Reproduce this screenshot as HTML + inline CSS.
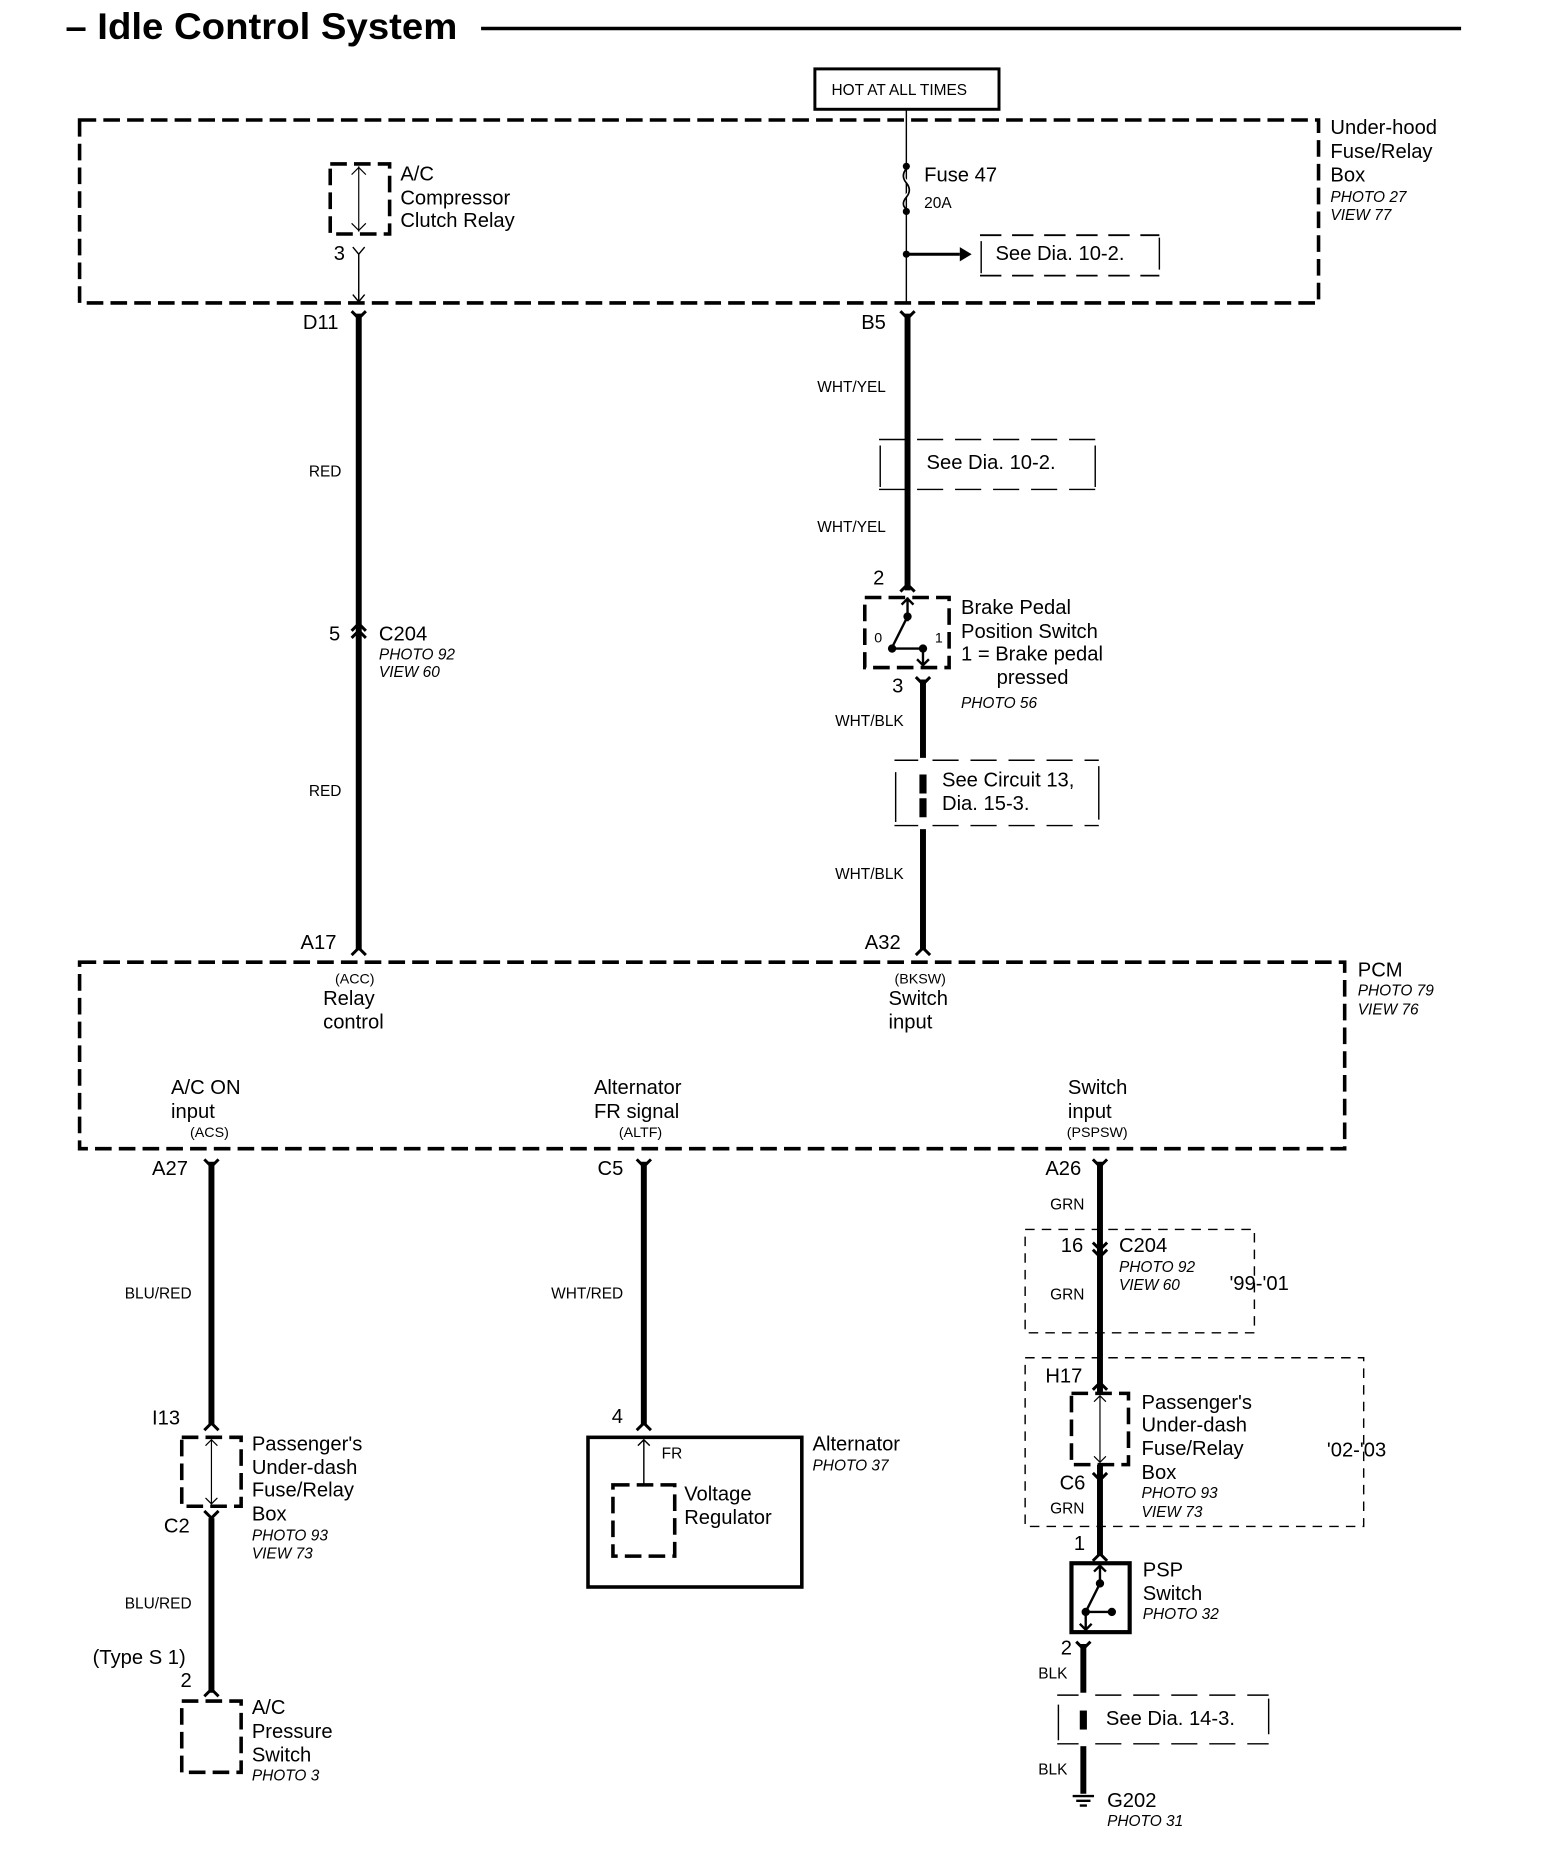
<!DOCTYPE html>
<html><head><meta charset="utf-8"><style>
html,body{margin:0;padding:0;background:#fff}
svg{display:block}
text{font-family:"Liberation Sans",Arial,sans-serif;fill:#000}
.l{font-size:17px}.s{font-size:13px}.i{font-size:13px;font-style:italic}.xs{font-size:12px}
</style></head><body>
<svg width="1568" height="1862" viewBox="0 0 1320 1567.5" preserveAspectRatio="none" xmlns="http://www.w3.org/2000/svg">
<g fill="none" stroke="#000">
<line x1="405" y1="24" x2="1230" y2="24" stroke-width="3"/>
<rect x="686" y="58" width="155" height="34" stroke-width="2.5"/>
<line x1="763" y1="92" x2="763" y2="255" stroke-width="1.2"/>
<rect x="67" y="101" width="1043" height="154" stroke-width="3" stroke-dasharray="14 6"/>
<path d="M763 140 q-6 6 0 12 q6 6 0 12 q-6 6 0 14" stroke-width="1.5" stroke="#fff"/>
<path d="M763 142 q-5 6 0 12 q5 6 0 12 q-5 6 0 10" stroke-width="1.4"/>
<line x1="763" y1="214" x2="808" y2="214" stroke-width="2.5"/>
<path d="M825 198 h151 M825 232 h151" stroke-width="1.5" stroke-dasharray="18 9"/>
<path d="M826 203 v27 M976 200 v27" stroke-width="1.2"/>
<rect x="278" y="138" width="50" height="59" stroke-width="3" stroke-dasharray="14 6"/>
<line x1="302" y1="140" x2="302" y2="195" stroke-width="1"/>
<path d="M296 147 l6 -6 l6 6 M296 188 l6 6 l6 -6" stroke-width="1"/>
<path d="M297 208 l5 6 l5 -6 M302 214 v40 M297 248 l5 6 l5 -6" stroke-width="1.2"/>
<line x1="302" y1="264" x2="302" y2="800" stroke-width="5"/>
<path d="M296 262 l6 6 l6 -6" stroke-width="2.5"/>
<path d="M296 537 l6 -6 l6 6 M296 531 l6 -6 l6 6" stroke-width="2.5"/>
<path d="M296 804 l6 -6 l6 6" stroke-width="2.5"/>
<line x1="764" y1="264" x2="764" y2="497" stroke-width="5"/>
<path d="M758 262 l6 6 l6 -6 M758 498 l6 -6 l6 6" stroke-width="2.5"/>
<path d="M740 370 h182 M740 412 h182" stroke-width="1.2" stroke-dasharray="22 10"/>
<path d="M741 375 v35 M922 375 v35" stroke-width="1.2"/>
<rect x="728" y="503" width="71" height="59" stroke-width="3" stroke-dasharray="14 6"/>
<path d="M764 503 v20 M759 509 l5 -5 l5 5 M764 519 l-13 26 M751 546 h24 M777 546 v14 M772 555 l5 5 l5 -5" stroke-width="2"/>
<line x1="777" y1="572" x2="777" y2="800" stroke-width="5"/>
<path d="M771 570 l6 6 l6 -6 M771 804 l6 -6 l6 6" stroke-width="2.5"/>
<path d="M753 640 h172 M753 695 h172" stroke-width="1.2" stroke-dasharray="22 10"/>
<path d="M754 650 v42 M925 645 v45" stroke-width="1.2"/>
<rect x="67" y="810" width="1065" height="157" stroke-width="3" stroke-dasharray="14 6"/>
<line x1="178" y1="978" x2="178" y2="1200" stroke-width="5"/>
<path d="M172 976 l6 6 l6 -6 M172 1204 l6 -6 l6 6 M172 1272 l6 6 l6 -6 M172 1428 l6 -6 l6 6" stroke-width="2.5"/>
<rect x="153" y="1210" width="50" height="58" stroke-width="3" stroke-dasharray="14 6"/>
<path d="M178 1212 v54 M173 1217 l5 -5 l5 5 M173 1261 l5 5 l5 -5" stroke-width="1"/>
<line x1="178" y1="1278" x2="178" y2="1425" stroke-width="5"/>
<rect x="153" y="1432" width="50" height="60" stroke-width="3" stroke-dasharray="14 6"/>
<line x1="542" y1="978" x2="542" y2="1200" stroke-width="5"/>
<path d="M536 976 l6 6 l6 -6 M536 1204 l6 -6 l6 6" stroke-width="2.5"/>
<rect x="495" y="1210" width="180" height="126" stroke-width="3"/>
<path d="M542 1212 v38 M537 1217 l5 -5 l5 5" stroke-width="1.2"/>
<rect x="516" y="1250" width="52" height="60" stroke-width="3" stroke-dasharray="14 6"/>
<line x1="926" y1="978" x2="926" y2="1310" stroke-width="5"/>
<path d="M920 976 l6 6 l6 -6 M920 1046 l6 6 l6 -6 M920 1052 l6 6 l6 -6 M920 1170 l6 -6 l6 6 M920 1240 l6 6 l6 -6 M920 1314 l6 -6 l6 6" stroke-width="2.5"/>
<rect x="863" y="1035" width="193" height="87" stroke-width="1.2" stroke-dasharray="8 6"/>
<rect x="863" y="1143" width="285" height="142" stroke-width="1.2" stroke-dasharray="8 6"/>
<rect x="902" y="1173" width="48" height="60" stroke-width="3" stroke-dasharray="14 6" fill="#fff"/>
<path d="M926 1175 v56 M921 1180 l5 -5 l5 5 M921 1226 l5 5 l5 -5" stroke-width="1"/>
<rect x="902" y="1316" width="49" height="58" stroke-width="3.5" fill="#fff"/>
<path d="M926 1318 v14 M921 1323 l5 -5 l5 5 M926 1333 l-12 24 M914 1357 h22 M914 1357 v15 M909 1367 l5 5 l5 -5" stroke-width="2"/>
<line x1="912" y1="1384" x2="912" y2="1510" stroke-width="5"/>
<path d="M906 1382 l6 6 l6 -6" stroke-width="2.5"/>
<path d="M890 1427 h178 M890 1468 h178" stroke-width="1.2" stroke-dasharray="22 10"/>
<path d="M891 1435 v30 M1068 1430 v30" stroke-width="1.2"/>
<path d="M903 1512 h18 M906 1516 h12 M909 1520 h6" stroke-width="2"/>
</g>
<g fill="#000">
<circle cx="763" cy="140" r="3"/><circle cx="763" cy="178" r="3"/><circle cx="763" cy="214" r="3"/>
<polygon points="808,208 818,214 808,220"/>
<circle cx="764" cy="519" r="3.5"/><circle cx="751" cy="546" r="3.5"/><circle cx="777" cy="546" r="3.5"/>
<circle cx="926" cy="1333" r="3.5"/><circle cx="914" cy="1357" r="3.5"/><circle cx="936" cy="1357" r="3.5"/>
<rect x="908" y="1425" width="8" height="45" fill="#fff"/>
<rect x="773" y="638" width="8" height="60" fill="#fff"/>
<rect x="909" y="1440" width="6" height="16"/>
<rect x="774" y="652" width="6" height="16"/><rect x="774" y="672" width="6" height="16"/>
</g>
<text x="55" y="33" style="font-size:31px;font-weight:bold" textLength="330" lengthAdjust="spacingAndGlyphs">– Idle Control System</text>
<text x="700" y="80" class="s">HOT AT ALL TIMES</text>
<text x="1120" y="113" class="l">Under-hood</text><text x="1120" y="133" class="l">Fuse/Relay</text><text x="1120" y="153" class="l">Box</text>
<text x="1120" y="170" class="i">PHOTO 27</text><text x="1120" y="185" class="i">VIEW 77</text>
<text x="778" y="153" class="l">Fuse 47</text><text x="778" y="175" class="s">20A</text>
<text x="838" y="219" class="l">See Dia.  10-2.</text>
<text x="337" y="152" class="l">A/C</text><text x="337" y="172" class="l">Compressor</text><text x="337" y="191" class="l">Clutch Relay</text>
<text x="281" y="219" class="l">3</text>
<text x="255" y="277" class="l">D11</text><text x="725" y="277" class="l">B5</text>
<text x="260" y="401" class="s">RED</text><text x="260" y="670" class="s">RED</text>
<text x="277" y="539" class="l">5</text><text x="319" y="539" class="l">C204</text>
<text x="319" y="555" class="i">PHOTO 92</text><text x="319" y="570" class="i">VIEW 60</text>
<text x="253" y="799" class="l">A17</text><text x="728" y="799" class="l">A32</text>
<text x="688" y="330" class="s">WHT/YEL</text><text x="688" y="448" class="s">WHT/YEL</text>
<text x="780" y="395" class="l">See Dia.  10-2.</text>
<text x="735" y="492" class="l">2</text>
<text x="736" y="541" class="xs">0</text><text x="787" y="541" class="xs">1</text>
<text x="809" y="517" class="l">Brake Pedal</text><text x="809" y="537" class="l">Position Switch</text>
<text x="809" y="556" class="l">1 = Brake pedal</text><text x="839" y="576" class="l">pressed</text>
<text x="809" y="596" class="i">PHOTO 56</text>
<text x="751" y="583" class="l">3</text>
<text x="703" y="611" class="s">WHT/BLK</text><text x="703" y="740" class="s">WHT/BLK</text>
<text x="793" y="662" class="l">See Circuit 13,</text><text x="793" y="682" class="l">Dia.  15-3.</text>
<text x="1143" y="822" class="l">PCM</text><text x="1143" y="838" class="i">PHOTO 79</text><text x="1143" y="854" class="i">VIEW 76</text>
<text x="282" y="828" class="xs">(ACC)</text><text x="272" y="846" class="l">Relay</text><text x="272" y="866" class="l">control</text>
<text x="753" y="828" class="xs">(BKSW)</text><text x="748" y="846" class="l">Switch</text><text x="748" y="866" class="l">input</text>
<text x="144" y="921" class="l">A/C ON</text><text x="144" y="941" class="l">input</text><text x="160" y="957" class="xs">(ACS)</text>
<text x="500" y="921" class="l">Alternator</text><text x="500" y="941" class="l">FR signal</text><text x="521" y="957" class="xs">(ALTF)</text>
<text x="899" y="921" class="l">Switch</text><text x="899" y="941" class="l">input</text><text x="898" y="957" class="xs">(PSPSW)</text>
<text x="128" y="989" class="l">A27</text><text x="503" y="989" class="l">C5</text><text x="880" y="989" class="l">A26</text>
<text x="105" y="1093" class="s">BLU/RED</text><text x="464" y="1093" class="s">WHT/RED</text>
<text x="128" y="1199" class="l">I13</text>
<text x="212" y="1221" class="l">Passenger's</text><text x="212" y="1241" class="l">Under-dash</text><text x="212" y="1260" class="l">Fuse/Relay</text><text x="212" y="1280" class="l">Box</text>
<text x="212" y="1297" class="i">PHOTO 93</text><text x="212" y="1312" class="i">VIEW 73</text>
<text x="138" y="1290" class="l">C2</text>
<text x="105" y="1354" class="s">BLU/RED</text>
<text x="78" y="1401" class="l">(Type S 1)</text><text x="152" y="1420" class="l">2</text>
<text x="212" y="1443" class="l">A/C</text><text x="212" y="1463" class="l">Pressure</text><text x="212" y="1483" class="l">Switch</text><text x="212" y="1499" class="i">PHOTO 3</text>
<text x="515" y="1198" class="l">4</text><text x="557" y="1228" class="s">FR</text>
<text x="576" y="1263" class="l">Voltage</text><text x="576" y="1283" class="l">Regulator</text>
<text x="684" y="1221" class="l">Alternator</text><text x="684" y="1238" class="i">PHOTO 37</text>
<text x="884" y="1018" class="s">GRN</text>
<text x="893" y="1054" class="l">16</text><text x="942" y="1054" class="l">C204</text>
<text x="942" y="1071" class="i">PHOTO 92</text><text x="942" y="1086" class="i">VIEW 60</text>
<text x="1035" y="1086" class="l">'99-'01</text>
<text x="884" y="1094" class="s">GRN</text>
<text x="880" y="1164" class="l">H17</text>
<text x="961" y="1186" class="l">Passenger's</text><text x="961" y="1205" class="l">Under-dash</text><text x="961" y="1225" class="l">Fuse/Relay</text><text x="961" y="1245" class="l">Box</text>
<text x="961" y="1261" class="i">PHOTO 93</text><text x="961" y="1277" class="i">VIEW 73</text>
<text x="1117" y="1226" class="l">'02-'03</text>
<text x="892" y="1254" class="l">C6</text><text x="884" y="1274" class="s">GRN</text>
<text x="904" y="1305" class="l">1</text>
<text x="962" y="1327" class="l">PSP</text><text x="962" y="1347" class="l">Switch</text><text x="962" y="1363" class="i">PHOTO 32</text>
<text x="893" y="1393" class="l">2</text>
<text x="874" y="1413" class="s">BLK</text><text x="874" y="1494" class="s">BLK</text>
<text x="931" y="1452" class="l">See Dia.  14-3.</text>
<text x="932" y="1521" class="l">G202</text><text x="932" y="1537" class="i">PHOTO 31</text>
</svg>
</body></html>
